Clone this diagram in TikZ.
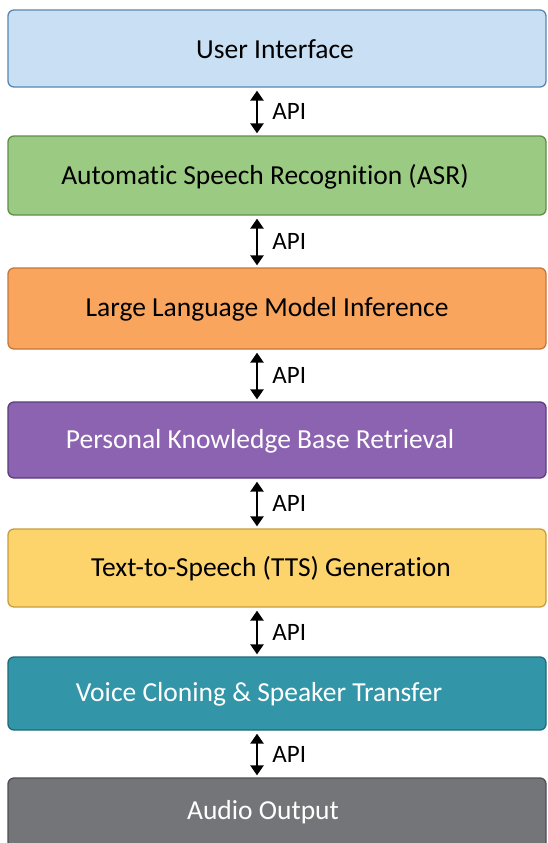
\documentclass[tikz,border=0pt]{standalone}
\usepackage{fontspec}
\setmainfont{Carlito}[Ligatures=NoCommon]
\usetikzlibrary{arrows.meta}
\definecolor{uifill}{HTML}{C9DFF3}\definecolor{uidraw}{HTML}{5A86B0}
\definecolor{asrfill}{HTML}{9BCB82}\definecolor{asrdraw}{HTML}{5E8F4A}
\definecolor{llmfill}{HTML}{F9A55E}\definecolor{llmdraw}{HTML}{C47838}
\definecolor{pkbfill}{HTML}{8C63B0}\definecolor{pkbdraw}{HTML}{5C3E7E}
\definecolor{ttsfill}{HTML}{FDD46C}\definecolor{ttsdraw}{HTML}{C79E3E}
\definecolor{vcfill}{HTML}{3396A8}\definecolor{vcdraw}{HTML}{1F6A78}
\definecolor{aofill}{HTML}{737578}\definecolor{aodraw}{HTML}{4E5053}
\tikzset{
  layer/.style={draw, line width=1.3pt, rounded corners=6pt, minimum width=538pt, inner sep=0pt},
  ltext/.style={font=\fontsize{27.5}{32}\selectfont, inner sep=0pt},
  apiarrow/.style={line width=2.8pt, {Triangle[width=13pt,length=10pt]}-{Triangle[width=13pt,length=10pt]}, shorten <=3pt, shorten >=2pt},
  apilabel/.style={font=\fontsize{25}{28}\selectfont, anchor=west, inner sep=0pt}
}
\begin{document}
\begin{tikzpicture}[x=1pt,y=-1pt]
\clip (0,0) rectangle (547,843);
\fill[white] (0,0) rectangle (547,843);
\node[layer, fill=uifill, draw=uidraw, minimum height=77pt,
  label={[ltext, text=black, xshift=-2pt, yshift=-1pt]center:User Interface}] (ui) at (277,48.5) {};
\node[layer, fill=asrfill, draw=asrdraw, minimum height=79pt,
  label={[ltext, text=black, xshift=-12pt, yshift=-1.5pt]center:Automatic Speech Recognition (ASR)}] (asr) at (277,175.5) {};
\node[layer, fill=llmfill, draw=llmdraw, minimum height=81pt,
  label={[ltext, text=black, xshift=-10pt, yshift=-1pt]center:Large Language Model Inference}] (llm) at (277,308.5) {};
\node[layer, fill=pkbfill, draw=pkbdraw, minimum height=76pt,
  label={[ltext, text=white, xshift=-17pt, yshift=-1pt]center:Personal Knowledge Base Retrieval}] (pkb) at (277,440) {};
\node[layer, fill=ttsfill, draw=ttsdraw, minimum height=78pt,
  label={[ltext, text=black, xshift=-6pt, yshift=-1pt]center:Text-to-Speech (TTS) Generation}] (tts) at (277,568) {};
\node[layer, fill=vcfill, draw=vcdraw, minimum height=73pt,
  label={[ltext, text=white, xshift=-18pt, yshift=-1pt]center:Voice Cloning \& Speaker Transfer}] (vc) at (277,693.5) {};
\node[layer, fill=aofill, draw=aodraw, minimum height=70pt,
  label={[ltext, text=white, xshift=-14pt, yshift=1pt]center:Audio Output}] (ao) at (277,813) {};
\foreach \a/\b in {ui/asr, asr/llm, llm/pkb, pkb/tts, tts/vc, vc/ao}{
  \draw[apiarrow] ([xshift=-20pt]\a.south) -- ([xshift=-20pt]\b.north)
    node[midway, apilabel, xshift=14pt] {API};
}
\end{tikzpicture}
\end{document}
